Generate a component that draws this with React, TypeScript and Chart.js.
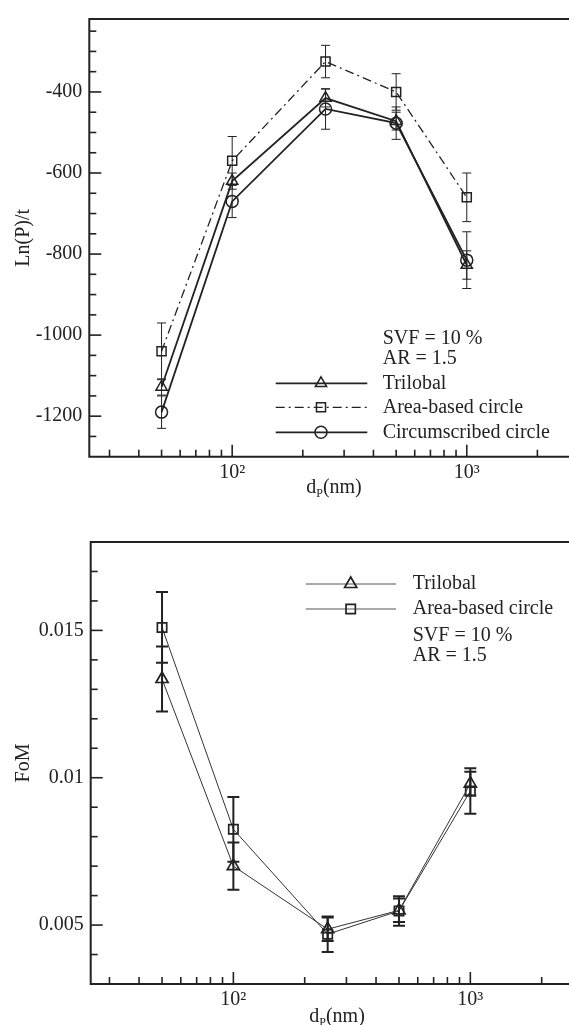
import React, { useEffect, useRef } from 'react';
import { Chart, registerables } from 'chart.js';

Chart.register(...registerables);

// ---------- data ----------
const diameters = [50, 100, 250, 500, 1000];

const lnPTrilobal = [-1128, -620, -415, -472, -827];
const lnPTrilobalErr = [20, 20, 22, 22, 35];
const lnPArea = [-1040, -570, -325, -400, -660];
const lnPAreaErr = [70, 60, 40, 45, 60];
const lnPCirc = [-1190, -670, -442, -477, -815];
const lnPCircErr = [40, 40, 50, 40, 70];

const fomTrilobal = [0.01335, 0.0070, 0.00486, 0.0055, 0.0098];
const fomTrilobalErr = [0.0011, 0.0008, 0.0004, 0.0004, 0.0004];
const fomArea = [0.0151, 0.00825, 0.00469, 0.00548, 0.00955];
const fomAreaErr = [0.0012, 0.0011, 0.0006, 0.0005, 0.00077];

const xMajorTicks = [100, 1000];
const xMinorTicks = [30, 40, 50, 60, 70, 80, 90, 200, 300, 400, 500, 600, 700, 800, 900, 2000];
const xTickLabels: Record<number, string> = { 100: '10²', 1000: '10³' };

const lnPMajorTicks = [-1200, -1000, -800, -600, -400];
const lnPMinorTicks = [-1250, -1150, -1100, -1050, -950, -900, -850, -750, -700, -650, -550, -500, -450, -350, -300, -250];

const fomMajorTicks = [0.005, 0.01, 0.015];
const fomMinorTicks = [0.004, 0.006, 0.007, 0.008, 0.009, 0.011, 0.012, 0.013, 0.014, 0.016, 0.017];
const fomTickLabels: Record<string, string> = { '0.005': '0.005', '0.01': '0.01', '0.015': '0.015' };

const seriesNames = ['Trilobal', 'Area-based circle', 'Circumscribed circle'];
const noteLines = ['SVF = 10 %', 'AR = 1.5'];

const FONT = "'Liberation Serif', 'Times New Roman', serif";
const INK = '#222';

// ---------- plugins ----------
const framePlugin = {
  id: 'frame',
  afterDraw(chart: any, _args: any, opts: any) {
    const ctx = chart.ctx;
    const { left, right, top, bottom } = chart.chartArea;
    const xs = chart.scales.x;
    const ys = chart.scales.y;
    ctx.save();
    ctx.strokeStyle = INK;
    ctx.lineWidth = 1.6;
    ctx.setLineDash([]);
    const tick = (vals: number[], len: number, horiz: boolean) => {
      vals.forEach((v) => {
        ctx.beginPath();
        if (horiz) {
          const px = xs.getPixelForValue(v);
          ctx.moveTo(px, bottom);
          ctx.lineTo(px, bottom - len);
        } else {
          const py = ys.getPixelForValue(v);
          ctx.moveTo(left, py);
          ctx.lineTo(left + len, py);
        }
        ctx.stroke();
      });
    };
    tick(opts.xMajor, 12, true);
    tick(opts.xMinor, 7, true);
    tick(opts.yMajor, 12, false);
    tick(opts.yMinor, 7, false);
    ctx.lineWidth = 2;
    ctx.beginPath();
    ctx.moveTo(right, top);
    ctx.lineTo(left, top);
    ctx.lineTo(left, bottom);
    ctx.lineTo(right, bottom);
    ctx.lineTo(right, top);
    ctx.stroke();

    // x-axis title with subscript
    const cx = (left + right) / 2;
    const cy = opts.xTitleY;
    ctx.fillStyle = INK;
    ctx.textBaseline = 'middle';
    ctx.textAlign = 'left';
    const big = `20px ${FONT}`;
    const small = `12px ${FONT}`;
    ctx.font = big;
    const wd = ctx.measureText('d').width;
    const wn = ctx.measureText('(nm)').width;
    ctx.font = small;
    const wp = ctx.measureText('P').width;
    let x0 = cx - (wd + wp + wn) / 2;
    ctx.font = big;
    ctx.fillText('d', x0, cy);
    x0 += wd;
    ctx.font = small;
    ctx.fillText('P', x0, cy + 6);
    x0 += wp;
    ctx.font = big;
    ctx.fillText('(nm)', x0, cy);
    ctx.restore();
  },
};

const errorBarPlugin = {
  id: 'errorBars',
  afterDatasetsDraw(chart: any, _args: any, opts: any) {
    const ctx = chart.ctx;
    const xs = chart.scales.x;
    const ys = chart.scales.y;
    ctx.save();
    ctx.strokeStyle = INK;
    ctx.lineWidth = opts.width;
    ctx.setLineDash([]);
    chart.data.datasets.forEach((ds: any) => {
      const errs: number[] = ds.errors;
      ds.data.forEach((p: any, j: number) => {
        const px = xs.getPixelForValue(p.x);
        const y1 = ys.getPixelForValue(p.y + errs[j]);
        const y2 = ys.getPixelForValue(p.y - errs[j]);
        ctx.beginPath();
        ctx.moveTo(px, y1);
        ctx.lineTo(px, y2);
        ctx.moveTo(px - opts.cap, y1);
        ctx.lineTo(px + opts.cap, y1);
        ctx.moveTo(px - opts.cap, y2);
        ctx.lineTo(px + opts.cap, y2);
        ctx.stroke();
      });
    });
    ctx.restore();
  },
};

const legendPlugin = {
  id: 'customLegend',
  afterDraw(chart: any, _args: any, opts: any) {
    const ctx = chart.ctx;
    ctx.save();
    ctx.font = `20px ${FONT}`;
    ctx.fillStyle = INK;
    ctx.textBaseline = 'middle';
    ctx.textAlign = 'left';
    opts.items.forEach((it: any, i: number) => {
      const ds = chart.data.datasets[i];
      const y = it.y;
      ctx.strokeStyle = opts.lineColor;
      ctx.lineWidth = ds.borderWidth;
      ctx.setLineDash(ds.borderDash || []);
      ctx.beginPath();
      ctx.moveTo(opts.x1, y);
      ctx.lineTo(opts.x2, y);
      ctx.stroke();
      ctx.setLineDash([]);
      ctx.strokeStyle = INK;
      ctx.lineWidth = ds.pointBorderWidth;
      const opt = { pointStyle: ds.pointStyle, radius: ds.pointRadius, rotation: 0, borderWidth: ds.pointBorderWidth };
      ctx.fillStyle = 'rgba(0,0,0,0)';
      (Chart as any).helpers?.drawPoint
        ? (Chart as any).helpers.drawPoint(ctx, opt, opts.mx, y)
        : drawMarker(ctx, ds.pointStyle, ds.pointRadius, opts.mx, y);
      ctx.fillStyle = INK;
      ctx.fillText(it.label, opts.tx, y);
    });
    opts.notes.forEach((n: any) => {
      ctx.fillStyle = INK;
      ctx.fillText(n.text, opts.tx, n.y);
    });
    ctx.restore();
  },
};

function drawMarker(ctx: CanvasRenderingContext2D, style: string, r: number, x: number, y: number) {
  ctx.beginPath();
  if (style === 'triangle') {
    for (let k = 0; k < 3; k++) {
      const a = (k * 2 * Math.PI) / 3;
      const px = x + Math.sin(a) * r;
      const py = y - Math.cos(a) * r;
      if (k === 0) ctx.moveTo(px, py);
      else ctx.lineTo(px, py);
    }
    ctx.closePath();
  } else if (style === 'rect') {
    const s = Math.SQRT1_2 * r;
    ctx.rect(x - s, y - s, 2 * s, 2 * s);
  } else {
    ctx.arc(x, y, r, 0, Math.PI * 2);
  }
  ctx.stroke();
}

const pts = (ys: number[]) => diameters.map((x, i) => ({ x, y: ys[i] }));

function baseScales(cfg: any) {
  return {
    x: {
      type: 'logarithmic',
      min: cfg.xMin,
      max: 3000,
      afterBuildTicks: (s: any) => {
        s.ticks = xMajorTicks.map((v) => ({ value: v }));
      },
      afterFit: (s: any) => {
        s.height = cfg.xHeight;
      },
      ticks: {
        autoSkip: false,
        maxRotation: 0,
        padding: 4,
        color: INK,
        font: { family: FONT, size: 20 },
        callback: (v: any) => xTickLabels[Number(v)] ?? '',
      },
      grid: { display: false, drawTicks: false },
      border: { display: false },
    },
    y: {
      type: 'linear',
      min: cfg.yMin,
      max: cfg.yMax,
      afterBuildTicks: (s: any) => {
        s.ticks = cfg.yMajor.map((v: number) => ({ value: v }));
      },
      afterFit: (s: any) => {
        s.width = cfg.yWidth;
      },
      ticks: {
        autoSkip: false,
        padding: 7,
        color: INK,
        font: { family: FONT, size: 20 },
        callback: cfg.yLabel,
      },
      title: {
        display: true,
        text: cfg.yTitle,
        color: INK,
        font: { family: FONT, size: 20 },
        padding: { top: 12, bottom: 0 },
      },
      grid: { display: false, drawTicks: false },
      border: { display: false },
    },
  };
}

export default function App() {
  const topRef = useRef<HTMLCanvasElement>(null);
  const botRef = useRef<HTMLCanvasElement>(null);

  useEffect(() => {
    const top = new Chart(topRef.current as HTMLCanvasElement, {
      type: 'line',
      data: {
        datasets: [
          {
            label: seriesNames[0],
            data: pts(lnPTrilobal),
            errors: lnPTrilobalErr,
            borderColor: INK,
            borderWidth: 1.8,
            pointStyle: 'triangle',
            pointRadius: 6.5,
            pointBorderWidth: 1.5,
            pointBorderColor: INK,
            pointBackgroundColor: 'rgba(0,0,0,0)',
          },
          {
            label: seriesNames[1],
            data: pts(lnPArea),
            errors: lnPAreaErr,
            borderColor: INK,
            borderWidth: 1.3,
            borderDash: [9, 4, 2, 4],
            pointStyle: 'rect',
            pointRadius: 6.4,
            pointBorderWidth: 1.5,
            pointBorderColor: INK,
            pointBackgroundColor: 'rgba(0,0,0,0)',
          },
          {
            label: seriesNames[2],
            data: pts(lnPCirc),
            errors: lnPCircErr,
            borderColor: INK,
            borderWidth: 1.8,
            pointStyle: 'circle',
            pointRadius: 6,
            pointBorderWidth: 1.5,
            pointBorderColor: INK,
            pointBackgroundColor: 'rgba(0,0,0,0)',
          },
        ] as any,
      },
      options: {
        responsive: false,
        animation: false,
        devicePixelRatio: 1,
        layout: { padding: { left: 0, top: 11, right: 21.3, bottom: 0 } },
        scales: baseScales({
          xMin: 24.6,
          xHeight: 53.3,
          yMin: -1300,
          yMax: -220,
          yWidth: 89.3,
          yMajor: lnPMajorTicks,
          yLabel: (v: any) => String(v),
          yTitle: 'Ln(P)/t',
        }) as any,
        plugins: {
          legend: { display: false },
          tooltip: { enabled: false },
          frame: { xMajor: xMajorTicks, xMinor: xMinorTicks, yMajor: lnPMajorTicks, yMinor: lnPMinorTicks, xTitleY: 488 },
          errorBars: { width: 1, cap: 4.5 },
          customLegend: {
            x1: 275.7,
            x2: 367.3,
            mx: 321,
            tx: 382.7,
            lineColor: INK,
            items: [
              { label: seriesNames[0], y: 383.3 },
              { label: seriesNames[1], y: 407.3 },
              { label: seriesNames[2], y: 432.3 },
            ],
            notes: [
              { text: noteLines[0], y: 338.3 },
              { text: noteLines[1], y: 358.3 },
            ],
          },
        } as any,
      },
      plugins: [errorBarPlugin, framePlugin, legendPlugin],
    } as any);

    const bot = new Chart(botRef.current as HTMLCanvasElement, {
      type: 'line',
      data: {
        datasets: [
          {
            label: seriesNames[0],
            data: pts(fomTrilobal),
            errors: fomTrilobalErr,
            borderColor: '#333',
            borderWidth: 1,
            pointStyle: 'triangle',
            pointRadius: 7,
            pointBorderWidth: 1.7,
            pointBorderColor: INK,
            pointBackgroundColor: 'rgba(0,0,0,0)',
          },
          {
            label: seriesNames[1],
            data: pts(fomArea),
            errors: fomAreaErr,
            borderColor: '#333',
            borderWidth: 1,
            pointStyle: 'rect',
            pointRadius: 6.6,
            pointBorderWidth: 1.7,
            pointBorderColor: INK,
            pointBackgroundColor: 'rgba(0,0,0,0)',
          },
        ] as any,
      },
      options: {
        responsive: false,
        animation: false,
        devicePixelRatio: 1,
        layout: { padding: { left: 0, top: 32, right: 16.6, bottom: 0 } },
        scales: baseScales({
          xMin: 25,
          xHeight: 41,
          yMin: 0.003,
          yMax: 0.018,
          yWidth: 90.7,
          yMajor: fomMajorTicks,
          yLabel: (v: any) => fomTickLabels[String(Number(Number(v).toFixed(3)))] ?? '',
          yTitle: 'FoM',
        }) as any,
        plugins: {
          legend: { display: false },
          tooltip: { enabled: false },
          frame: { xMajor: xMajorTicks, xMinor: xMinorTicks, yMajor: fomMajorTicks, yMinor: fomMinorTicks, xTitleY: 506.7 },
          errorBars: { width: 2, cap: 6 },
          customLegend: {
            x1: 305.7,
            x2: 396,
            mx: 350.7,
            tx: 412.7,
            lineColor: '#555',
            items: [
              { label: seriesNames[0], y: 74 },
              { label: seriesNames[1], y: 99 },
            ],
            notes: [
              { text: noteLines[0], y: 126 },
              { text: noteLines[1], y: 145.7 },
            ],
          },
        } as any,
      },
      plugins: [errorBarPlugin, framePlugin, legendPlugin],
    } as any);

    return () => {
      top.destroy();
      bot.destroy();
    };
  }, []);

  return (
    <div
      style={{
        position: 'absolute',
        left: 0,
        top: 0,
        width: 569,
        height: 1025,
        overflow: 'hidden',
        background: '#fff',
      }}
    >
      <canvas ref={topRef} width={600} height={510} style={{ position: 'absolute', left: 0, top: 0, display: 'block' }} />
      <canvas ref={botRef} width={600} height={515} style={{ position: 'absolute', left: 0, top: 510, display: 'block' }} />
    </div>
  );
}
